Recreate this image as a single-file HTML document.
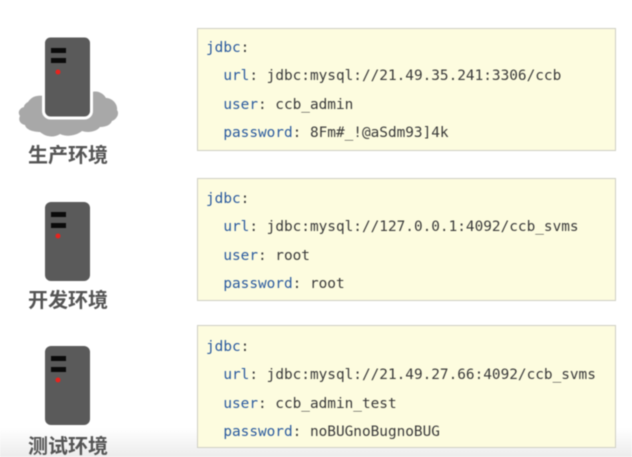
<!DOCTYPE html>
<html><head><meta charset="utf-8"><style>
html,body{margin:0;padding:0;background:#fff}
#p{position:relative;width:632px;height:457px;overflow:hidden;background:#fff;filter:blur(.45px)}
.b{position:absolute;left:197px;width:417px;height:121px;background:#fdfcdf;border:1px solid #cfcfc4;box-sizing:content-box}
.t{position:absolute;left:206px;font:14.4px/20px "DejaVu Sans Mono","Liberation Mono",monospace;color:#3a3a3a;white-space:pre}
.t i{font-style:normal;color:#2a5a9e}
.l{position:absolute;left:28px;width:80px;text-align:center;font:bold 20px/24px "Noto Sans CJK SC","Liberation Sans",sans-serif;color:#555;white-space:nowrap}
svg{position:absolute;left:0;top:0}
#g{position:absolute;left:0;top:428px;width:632px;height:29px;background:linear-gradient(#fff,#ececec)}
</style></head><body><div id="p">
<div id="g"></div>
<svg width="632" height="457">
<path d="M28 102C32 96 38 95 44 96L92 92C98 90 104 94 106 98C112 98 118 104 117 110C120 114 116 120 112 121C110 126 104 127 100 127C96 132 88 133 82 131C76 136 66 137 60 134C54 138 46 137 40 132C34 132 26 130 25 125C20 124 18 120 20 116C17 112 20 108 24 107C24 105 26 103 28 102Z" fill="#a8a8a8"/>
<rect x="43.500" y="36" width="48" height="82" rx="7" fill="#5a5a5a" stroke="#fff" stroke-width="3"/>
<rect x="51" y="48" width="15" height="5" fill="#0a0a0a"/><rect x="51" y="58" width="15" height="5" fill="#0a0a0a"/><circle cx="58" cy="72" r="2.500" fill="#e8231e"/>
<rect x="45" y="202" width="45" height="79" rx="6" fill="#5a5a5a"/>
<rect x="51" y="212" width="15" height="5" fill="#0a0a0a"/><rect x="51" y="223" width="15" height="5" fill="#0a0a0a"/><circle cx="58" cy="236" r="2.500" fill="#e8231e"/>
<rect x="45" y="346" width="45" height="79" rx="6" fill="#5a5a5a"/>
<rect x="51" y="356" width="15" height="5" fill="#0a0a0a"/><rect x="51" y="367" width="15" height="5" fill="#0a0a0a"/><circle cx="58" cy="380" r="2.500" fill="#e8231e"/>
</svg>
<div class="l" style="top:142px">生产环境</div>
<div class="l" style="top:287px">开发环境</div>
<div class="l" style="top:433px">测试环境</div>

<div class="b" style="top:28px"></div>
<div class="t" style="top:38px"><i>jdbc</i>:</div>
<div class="t" style="top:66px">  <i>url</i>: jdbc:mysql://21.49.35.241:3306/ccb</div>
<div class="t" style="top:95px">  <i>user</i>: ccb_admin</div>
<div class="t" style="top:123px">  <i>password</i>: 8Fm#_!@aSdm93]4k</div>

<div class="b" style="top:178px"></div>
<div class="t" style="top:189px"><i>jdbc</i>:</div>
<div class="t" style="top:217px">  <i>url</i>: jdbc:mysql://127.0.0.1:4092/ccb_svms</div>
<div class="t" style="top:246px">  <i>user</i>: root</div>
<div class="t" style="top:274px">  <i>password</i>: root</div>

<div class="b" style="top:325px"></div>
<div class="t" style="top:337px"><i>jdbc</i>:</div>
<div class="t" style="top:365px">  <i>url</i>: jdbc:mysql://21.49.27.66:4092/ccb_svms</div>
<div class="t" style="top:394px">  <i>user</i>: ccb_admin_test</div>
<div class="t" style="top:422px">  <i>password</i>: noBUGnoBugnoBUG</div>
</div></body></html>
